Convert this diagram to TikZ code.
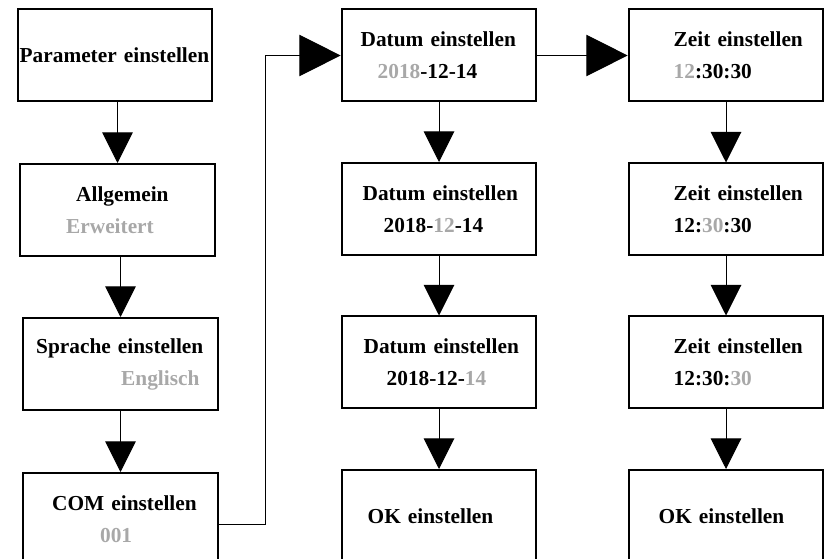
\documentclass[tikz,border=0pt]{standalone}
\usepackage{fontspec}
\setmainfont{Liberation Serif}
\usetikzlibrary{arrows.meta}
\definecolor{hell}{gray}{0.66}
\newlength\px \setlength\px{0.75pt}
\newcommand{\ein}[1]{\hspace*{#1\px}}
\begin{document}
\begin{tikzpicture}[
  x=0.75pt, y=-0.75pt,
  font=\fontsize{16pt}{24pt}\selectfont\bfseries,
  box/.style={draw, line width=1.5pt, minimum width=146pt, minimum height=69pt, text width=146pt, inner xsep=0pt, inner ysep=0pt, align=left},
  pfeil/.style={line width=0.75pt, -{Triangle[length=23pt, width=23pt]}},
  pfeilH/.style={line width=0.75pt, -{Triangle[length=31pt, width=31pt]}}
]
\useasboundingbox (0,0) rectangle (828,559);
\clip (0,0) rectangle (828,559);
% Spalte 1: Parameter
\node[box] (p1) at (115,55.5) {\ein{2}Parameter einstellen};
\node[box] (p2) at (117.5,210) {\ein{56}Allgemein\\\ein{46}\textcolor{hell}{Erweitert}};
\node[box] (p3) at (120.5,364) {\ein{13}Sprache einstellen\\\ein{98}\textcolor{hell}{Englisch}};
\node[box] (p4) at (120.5,519) {\ein{29}COM einstellen\\\ein{77}\textcolor{hell}{001}};
% Spalte 2: Datum
\node[box] (d1) at (439,55.5) {\ein{19}Datum einstellen\\\ein{36}\textcolor{hell}{2018}-12-14};
\node[box] (d2) at (439,209) {\ein{21}Datum einstellen\\\ein{42}2018-\textcolor{hell}{12}-14};
\node[box] (d3) at (439,362.5) {\ein{22}Datum einstellen\\\ein{45}2018-12-\textcolor{hell}{14}};
\node[box] (d4) at (439,516) {\ein{26}OK einstellen};
% Spalte 3: Zeit
\node[box] (z1) at (726,55.5) {\ein{45}Zeit einstellen\\\ein{45}\textcolor{hell}{12}:30:30};
\node[box] (z2) at (726,209.5) {\ein{45}Zeit einstellen\\\ein{45}12:\textcolor{hell}{30}:30};
\node[box] (z3) at (726,362.5) {\ein{45}Zeit einstellen\\\ein{45}12:30:\textcolor{hell}{30}};
\node[box] (z4) at (726,516) {\ein{30}OK einstellen};
% Pfeile
\draw[pfeil] (p1.south -| p2.north) -- (p2.north);
\draw[pfeil] (p2.south -| p3.north) -- (p3.north);
\draw[pfeil] (p3.south) -- (p4.north);
\draw[pfeilH] ([yshift=-4pt]p4.east) -- ++(47,0) |- (d1.west);
\draw[pfeilH] (d1.east) -- (z1.west);
\foreach \a/\b in {d1/d2, d2/d3, d3/d4, z1/z2, z2/z3, z3/z4}
  \draw[pfeil] (\a.south) -- (\b.north);
\end{tikzpicture}
\end{document}
